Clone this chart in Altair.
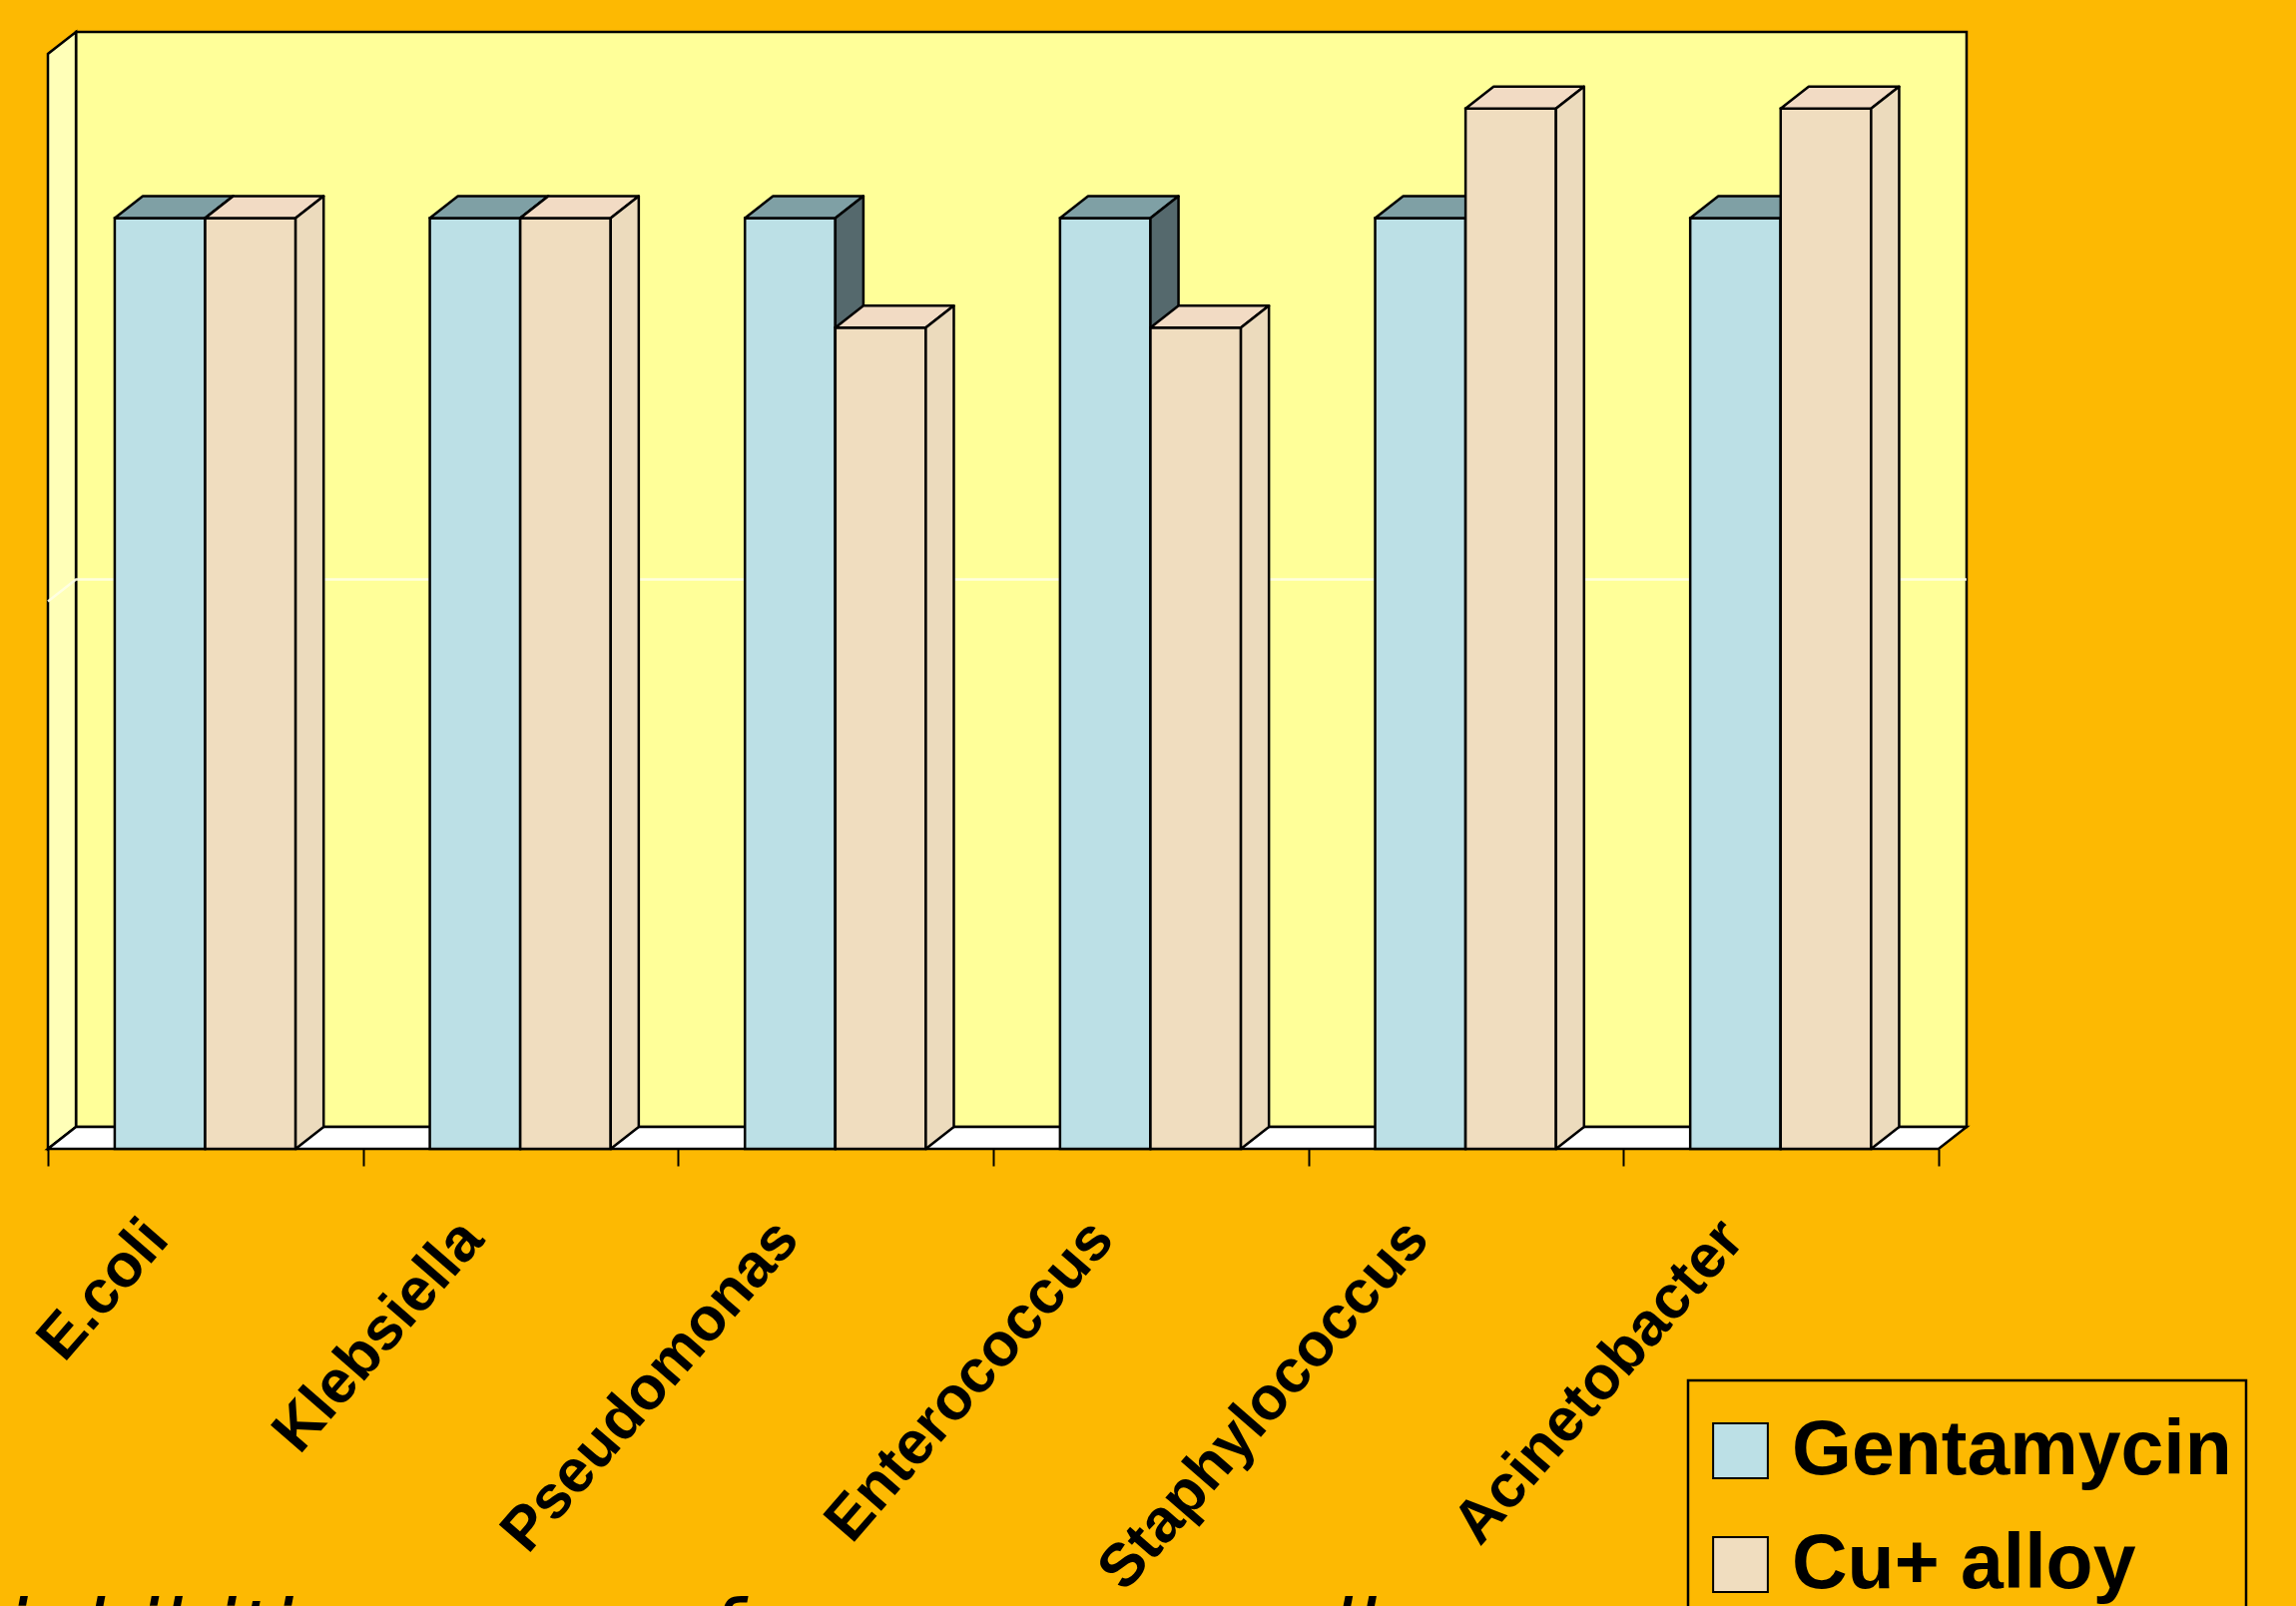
import json
import altair as alt
import pandas as pd

# ---------------- data ----------------
categories = ["E.coli", "Klebsiella", "Pseudomonas", "Enterococcus", "Staphylococcus", "Acinetobacter"]
series = ["Gentamycin", "Cu+ alloy"]
gentamycin = [17, 17, 17, 17, 17, 17]
cu_alloy = [17, 17, 15, 15, 19, 19]
axis_max = 20
grid_value = 10
caption = "inhibition zone of copper as well"

# ---------------- style ----------------
ORANGE = "#FDB902"
WALL = "#FFFF99"
SIDE_WALL = "#FFFFB8"
FLOOR = "#FFFFFF"
face_colors = ["#BCE0E6", "#F0DDBF"]
top_colors = ["#7FA0A5", "#F2DBC4"]
side_colors = ["#55696D", "#ECDBBD"]
DX, DY = 0.089, 0.40          # 3-D depth expressed in data units
BAR_START, BAR_W = 0.212, 0.287
W, H = 1922, 1119
PAD_L, PAD_T = 48, 32
SW = 2.5
n = len(categories)

xs = alt.Scale(domain=[0, n + DX], nice=False, zero=False)
ys = alt.Scale(domain=[0, axis_max + DY], nice=False, zero=False)

values = {series[0]: gentamycin, series[1]: cu_alloy}
front, tops, sides = {s: [] for s in series}, {s: [] for s in series}, {s: [] for s in series}
for i, cat in enumerate(categories):
    for k, s in enumerate(series):
        v = values[s][i]
        x0 = i + BAR_START + k * BAR_W
        x1 = x0 + BAR_W
        bid = f"{k}-{i}"
        front[s].append(dict(series=s, category=cat, value=v, x0=x0, x1=x1, base=0))
        tops[s] += [dict(id=bid, color=top_colors[k], y=v, xa=x0, xb=x1),
                    dict(id=bid, color=top_colors[k], y=v + DY, xa=x0 + DX, xb=x1 + DX)]
        sides[s] += [dict(id=bid, color=side_colors[k], x=x1, ya=0, yb=v),
                     dict(id=bid, color=side_colors[k], x=x1 + DX, ya=DY, yb=v + DY)]

label_expr = f"datum.value < {n} ? {json.dumps(categories)}[datum.value] : ''"
x_axis = alt.Axis(
    values=list(range(n + 1)), labelExpr=label_expr, title=None, grid=False, domain=False,
    ticks=True, tickSize=17, tickColor="black", tickWidth=2,
    labelAngle=-49, labelAlign="right", labelBaseline="middle",
    labelOffset=109, labelPadding=63, labelFlush=False, labelOverlap=False, labelBound=False,
    labelFont="Liberation Sans", labelFontSize=61, labelFontWeight="bold", labelColor="black",
    labelLimit=0,
)


def X(field, **kw):
    return alt.X(field, scale=xs, axis=x_axis, **kw)


def Y(field, **kw):
    return alt.Y(field, scale=ys, axis=None, **kw)


back_wall = alt.Chart(pd.DataFrame([dict(x0=DX, x1=n + DX, y0=DY, y1=axis_max + DY)])).mark_rect(
    fill=WALL, stroke="black", strokeWidth=SW
).encode(x=X("x0:Q"), x2="x1:Q", y=Y("y0:Q"), y2="y1:Q")

left_wall = alt.Chart(pd.DataFrame(dict(x=[0, DX], ya=[0, DY], yb=[axis_max, axis_max + DY]))).mark_area(
    orient="vertical", fill=SIDE_WALL, stroke="black", strokeWidth=SW
).encode(x=X("x:Q"), y=Y("ya:Q", stack=None), y2="yb:Q")

floor = alt.Chart(pd.DataFrame(dict(y=[0, DY], xa=[0, DX], xb=[n, n + DX]))).mark_area(
    orient="horizontal", fill=FLOOR, stroke="black", strokeWidth=SW
).encode(y=Y("y:Q"), x=X("xa:Q", stack=None), x2="xb:Q")

grid = alt.Chart(pd.DataFrame(dict(x=[0, DX, n + DX], y=[grid_value, grid_value + DY, grid_value + DY]))).mark_line(
    color="#FFFFE6", strokeWidth=2.5, opacity=0.9
).encode(x=X("x:Q"), y=Y("y:Q"), order="x:Q")

legend = alt.Legend(
    title=" ", titleFontSize=10, titlePadding=8,
    orient="none", legendX=1643, legendY=1351, direction="vertical",
    fillColor=ORANGE, strokeColor="black", padding=14,
    labelFont="Liberation Sans", labelFontSize=77, labelFontWeight="bold", labelColor="black",
    labelLimit=0,
    symbolType="square", symbolSize=3000, symbolStrokeColor="black", symbolStrokeWidth=2,
    symbolOpacity=1, rowPadding=36, labelOffset=13,
)
fill_scale = alt.Scale(domain=series, range=face_colors)


def bar_layers(s):
    f = alt.Chart(pd.DataFrame(front[s])).mark_rect(stroke="black", strokeWidth=SW).encode(
        x=X("x0:Q"), x2="x1:Q", y=Y("base:Q"), y2="value:Q",
        fill=alt.Fill("series:N", scale=fill_scale, legend=legend),
    )
    t = alt.Chart(pd.DataFrame(tops[s])).mark_area(
        orient="horizontal", stroke="black", strokeWidth=SW, strokeJoin="round"
    ).encode(
        y=Y("y:Q"), x=X("xa:Q", stack=None), x2="xb:Q",
        detail="id:N", fill=alt.Fill("color:N", scale=None),
    )
    sd = alt.Chart(pd.DataFrame(sides[s])).mark_area(
        orient="vertical", stroke="black", strokeWidth=SW, strokeJoin="round"
    ).encode(
        x=X("x:Q"), y=Y("ya:Q", stack=None), y2="yb:Q",
        detail="id:N", fill=alt.Fill("color:N", scale=None),
    )
    return [f, t, sd]


layers = [back_wall, left_wall, floor, grid] + bar_layers(series[0]) + bar_layers(series[1])

chart = alt.layer(*layers).properties(
    width=W, height=H,
    background=ORANGE,
    padding={"left": PAD_L, "top": PAD_T, "right": 2300 - PAD_L - W, "bottom": 1609 - PAD_T - H},
    autosize=alt.AutoSizeParams(type="none"),
    title=alt.TitleParams(
        caption, orient="bottom", anchor="start", font="DejaVu Sans", fontSize=85,
        fontStyle="italic", fontWeight="normal", color="black", dx=-22, offset=-24,
        baseline="top",
    ),
).configure_view(stroke=None).configure_legend(strokeWidth=2.5)

chart.save("out.html", embed_options={"renderer": "svg", "actions": False})
